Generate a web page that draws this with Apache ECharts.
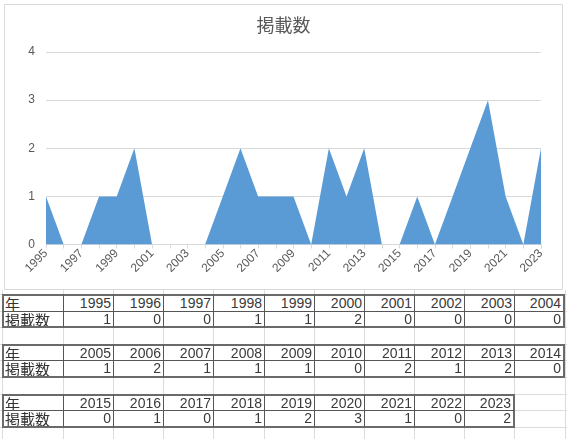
<!DOCTYPE html>
<html>
<head>
<meta charset="utf-8">
<script src="https://cdn.jsdelivr.net/npm/echarts@6/dist/echarts.min.js"></script>
<style>
  html, body { margin: 0; padding: 0; background: #fff; }
  #wrap { position: relative; width: 567px; height: 439px; overflow: hidden; background: #fff; }
  #chart { position: absolute; left: 0; top: 0; width: 567px; height: 292px; }
  .gl { position: absolute; background: #dcdcdc; }
  .cell { position: absolute; box-sizing: border-box; font-family: "Noto Sans CJK JP", sans-serif; font-size: 15px; color: #333; line-height: 15px; white-space: nowrap; overflow: hidden; background: #fff; }
  .num { text-align: right; padding-right: 2px; font-family: "Liberation Sans", sans-serif; color: #3a3a3a; font-size: 14px; }
  .lbl { text-align: left; padding-left: 1px; }
</style>
</head>
<body>
<div id="wrap">
  <div id="chart"></div>
</div>
<script>
const years = ['1995','1996','1997','1998','1999','2000','2001','2002','2003','2004',
  '2005','2006','2007','2008','2009','2010','2011','2012','2013','2014',
  '2015','2016','2017','2018','2019','2020','2021','2022','2023'];
const counts = [1,0,0,1,1,2,0,0,0,0,
  1,2,1,1,1,0,2,1,2,0,
  0,1,0,1,2,3,1,0,2];
const yTicks = [0,1,2,3,4];
const titleText = '掲載数';
const rowHeaderYear = '年';
const rowHeaderCount = '掲載数';

const chart = echarts.init(document.getElementById('chart'));
chart.setOption({
  animation: false,
  backgroundColor: '#fff',
  title: {
    text: titleText, left: 'center', top: 11,
    textStyle: { fontFamily: 'Noto Sans CJK JP', fontSize: 18, fontWeight: 'normal', color: '#595959' }
  },
  graphic: [{
    type: 'rect', shape: { x: 4.5, y: 4.5, width: 558, height: 285 },
    style: { fill: 'none', stroke: '#d9d9d9', lineWidth: 1 }, silent: true, z: -1
  }],
  grid: { left: 46, right: 26, top: 52, bottom: 47.5 },
  xAxis: {
    type: 'category', data: years, boundaryGap: false,
    axisLine: { lineStyle: { color: '#d9d9d9' } },
    axisTick: { show: true, interval: 0, length: 4, lineStyle: { color: '#d9d9d9' } },
    axisLabel: { interval: 1, rotate: 45, margin: 7, color: '#595959', fontSize: 12, fontFamily: 'Liberation Sans' }
  },
  yAxis: {
    type: 'value', min: yTicks[0], max: yTicks[yTicks.length - 1], interval: 1,
    axisLine: { show: false }, axisTick: { show: false },
    splitLine: { lineStyle: { color: '#d9d9d9' } },
    axisLabel: { margin: 11, color: '#595959', fontSize: 12, fontFamily: 'Liberation Sans' }
  },
  series: [{
    type: 'line', data: counts, symbol: 'none',
    lineStyle: { width: 0 }, itemStyle: { color: '#5b9bd5' },
    areaStyle: { color: '#5b9bd5', opacity: 1 }
  }]
});

// Excel-like tables built from the data arrays
const wrap = document.getElementById('wrap');
const x0 = 2, firstW = 61, colW = 50.15, y0 = 294, rowH = 16.6, perTable = 10;
const colX = c => c === 0 ? x0 : x0 + firstW + (c - 1) * colW;
const colWid = c => c === 0 ? firstW : colW;

// light sheet gridlines
for (let c = 0; c <= 11; c++) {
  const d = document.createElement('div');
  d.className = 'gl';
  d.style.left = Math.round(colX(c)) + 'px'; d.style.top = '290px';
  d.style.width = '1px'; d.style.height = '149px';
  wrap.appendChild(d);
}
for (let r = 0; r <= 8; r++) {
  const d = document.createElement('div');
  d.className = 'gl';
  d.style.left = '0px'; d.style.top = Math.round(y0 + r * rowH) + 'px';
  d.style.width = '567px'; d.style.height = '1px';
  wrap.appendChild(d);
}

const nTables = Math.ceil(years.length / perTable);
for (let t = 0; t < nTables; t++) {
  const ys = years.slice(t * perTable, (t + 1) * perTable);
  const vs = counts.slice(t * perTable, (t + 1) * perTable);
  const ncol = ys.length + 1;
  for (let r = 0; r < 2; r++) {
    for (let c = 0; c < ncol; c++) {
      const d = document.createElement('div');
      d.className = 'cell ' + (c === 0 ? 'lbl' : 'num');
      const left = Math.round(colX(c)), right = Math.round(colX(c) + colWid(c));
      const top = Math.round(y0 + (t * 3 + r) * rowH), bot = Math.round(y0 + (t * 3 + r + 1) * rowH);
      d.style.left = left + 'px'; d.style.top = top + 'px';
      d.style.width = (right - left + 1) + 'px'; d.style.height = (bot - top + 1) + 'px';
      const outer = '2px solid #6a6a6a', inner = '1px solid #555';
      d.style.borderLeft = c === 0 ? outer : inner;
      d.style.borderRight = c === ncol - 1 ? outer : inner;
      d.style.borderTop = r === 0 ? outer : inner;
      d.style.borderBottom = r === 1 ? outer : inner;
      d.textContent = c === 0 ? (r === 0 ? rowHeaderYear : rowHeaderCount) : (r === 0 ? ys[c - 1] : String(vs[c - 1]));
      wrap.appendChild(d);
    }
  }
}
</script>
</body>
</html>
